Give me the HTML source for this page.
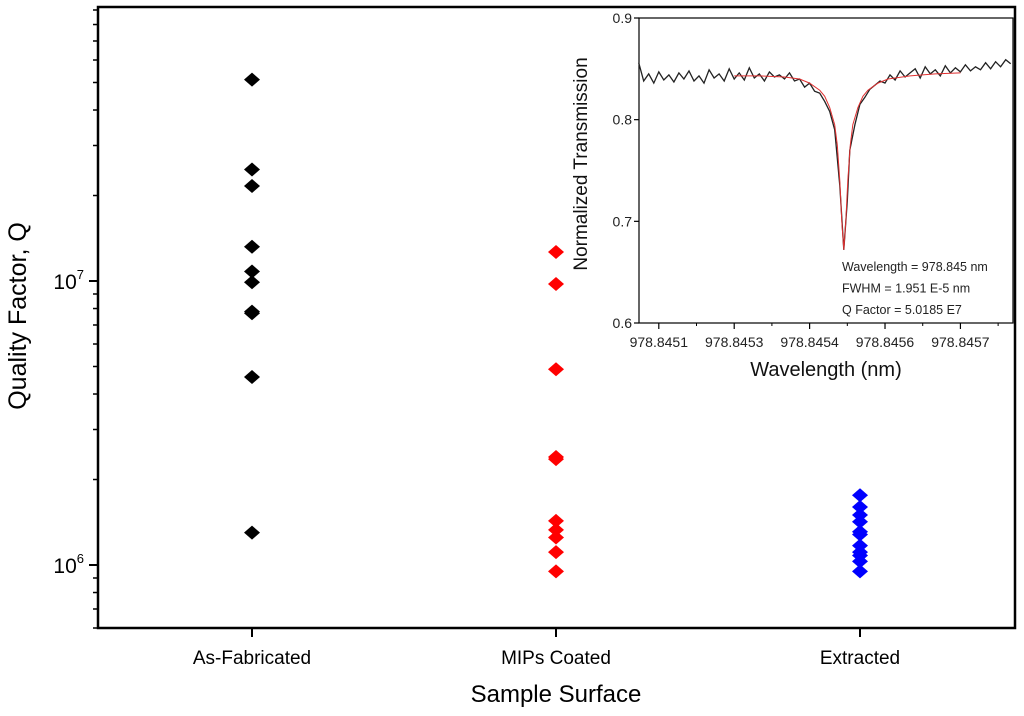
<!DOCTYPE html>
<html><head><meta charset="utf-8"><style>
html,body{margin:0;padding:0;background:#fff;}
svg{display:block;font-family:"Liberation Sans",Arial,sans-serif;}
</style></head><body>
<svg id="chart" width="1024" height="716" viewBox="0 0 1024 716" xmlns="http://www.w3.org/2000/svg"></svg>
<script>
// ---- main chart data ----
const categories = ["As-Fabricated", "MIPs Coated", "Extracted"];
const asFabricatedQ = [5.12e7, 2.47e7, 2.16e7, 1.32e7, 1.08e7, 0.99e7, 7.8e6, 7.7e6, 4.59e6, 1.30e6];
const mipsCoatedQ = [1.265e7, 9.76e6, 4.89e6, 2.40e6, 2.36e6, 1.43e6, 1.33e6, 1.25e6, 1.11e6, 0.95e6];
const extractedQ = [1.76e6, 1.60e6, 1.50e6, 1.42e6, 1.31e6, 1.28e6, 1.17e6, 1.11e6, 1.08e6, 1.03e6, 0.95e6];
const seriesColors = ["#000000", "#ff0000", "#0000ff"];
const yMajorTicks = [1e6, 1e7];
const yMinorTicks = [6e5,7e5,8e5,9e5,2e6,3e6,4e6,5e6,6e6,7e6,8e6,9e6,2e7,3e7,4e7,5e7,6e7,7e7,8e7,9e7];
const yMajorExp = ["6", "7"];

// ---- inset data (x in units of 1e-5 nm offset from 978.8451 nm) ----
const insetX = [-4,-3,-2,-1,0,1,2,3,4,5,6,7,8,9,10,11,12,13,14,15,16,17,18,19,20,21,22,23,24,25,26,27,28,29,30,31,32,33,34,35,36,36.8,37.5,38,39,40,41,42,43,44,45,46,47,48,49,50,51,52,53,54,55,56,57,58,59,60,61,62,63,64,65,66,67,68,69,70];
const insetT = [.856,.838,.845,.836,.847,.839,.844,.837,.846,.840,.848,.838,.843,.836,.849,.841,.845,.838,.850,.840,.846,.839,.851,.841,.845,.838,.847,.842,.844,.840,.846,.838,.840,.832,.836,.828,.826,.818,.808,.790,.735,.672,.720,.770,.795,.815,.822,.830,.834,.838,.836,.844,.839,.848,.842,.846,.850,.841,.852,.845,.849,.843,.853,.846,.851,.847,.854,.848,.852,.849,.856,.850,.857,.852,.859,.855];
const fitX = [15,20,25,28,30,32,33,34,35,35.5,36,36.4,36.8,37.2,37.6,38.1,38.6,39.6,40.6,41.6,43.6,45.6,50,55,60];
const fitT = [.843,.843,.842,.840,.836,.829,.823,.812,.795,.775,.740,.700,.672,.700,.740,.775,.795,.812,.823,.829,.836,.840,.843,.845,.846];
const insetXTicks = [0,15,30,45,60];
const insetXTickLabels = ["978.8451","978.8453","978.8454","978.8456","978.8457"];
const insetYTicks = [0.6,0.7,0.8,0.9];
const insetYTickLabels = ["0.6","0.7","0.8","0.9"];
const annotations = ["Wavelength = 978.845 nm","FWHM = 1.951 E-5 nm","Q Factor = 5.0185 E7"];

const NS = "http://www.w3.org/2000/svg";
const svg = document.getElementById("chart");
function mk(tag, attrs, parent) {
  const e = document.createElementNS(NS, tag);
  for (const k in attrs) e.setAttribute(k, attrs[k]);
  (parent || svg).appendChild(e);
  return e;
}
// main axes
const L = 98, R = 1015, T = 7, B = 628;
const xCat = i => 252 + i * 304;
const yScale = v => 281 - (Math.log10(v) - 7) * 284;

const plot = mk("g", {});


const frame = mk("path", {d:`M${L},${T} H${R} V${B} H${L} Z`, fill:"none", stroke:"#000", "stroke-width":2.5}, plot);



yMinorTicks.forEach(v => {
  const y = yScale(v);
  const t = mk("line", {x1:L-5, x2:L, y1:y, y2:y, stroke:"#000", "stroke-width":1.5}, plot);
  
  
});
yMajorTicks.forEach((v, i) => {
  const y = yScale(v);
  const t = mk("line", {x1:L-9, x2:L, y1:y, y2:y, stroke:"#000", "stroke-width":2}, plot);
  
  
  const lb = mk("text", {x:L-14, y:y+8, "text-anchor":"end", "font-size":21}, plot);
  
  
  lb.appendChild(document.createTextNode("10"));
  const sup = mk("tspan", {dy:-10, "font-size":13}, lb);
  sup.textContent = yMajorExp[i];
});
categories.forEach((c, i) => {
  const x = xCat(i);
  const t = mk("line", {x1:x, x2:x, y1:B, y2:B+9, stroke:"#000", "stroke-width":2}, plot);
  
  
  const lb = mk("text", {x:x, y:664, "text-anchor":"middle", "font-size":19}, plot);
  
  
  lb.textContent = c;
});
const xt = mk("text", {x:556, y:702, "text-anchor":"middle", "font-size":24}, plot);


xt.textContent = "Sample Surface";
const yt = mk("text", {x:0, y:0, "text-anchor":"middle", "font-size":25, transform:"translate(26,316) rotate(-90)"}, plot);


yt.textContent = "Quality Factor, Q";

[asFabricatedQ, mipsCoatedQ, extractedQ].forEach((arr, i) => {
  const g = mk("g", {fill:seriesColors[i]}, plot);
  
  
  arr.forEach(v => {
    const x = xCat(i), y = yScale(v);
    const d = mk("path", {d:`M${x},${y-7} L${x+8},${y} L${x},${y+7} L${x-8},${y} Z`}, g);
    
    
  });
});

// inset
const iL = 639, iR = 1013, iT = 18, iB = 323;
const ix = v => 658.8 + v * 5.027;
const iy = v => iB - (v - 0.6) / 0.3 * (iB - iT);
const inset = mk("g", {});


const ibg = mk("rect", {x:iL, y:iT, width:iR-iL, height:iB-iT, fill:"#fff", stroke:"#000", "stroke-width":1.2}, inset);


insetYTicks.forEach((v, i) => {
  const y = iy(v);
  const t = mk("line", {x1:iL-5, x2:iL, y1:y, y2:y, stroke:"#000", "stroke-width":1.2}, inset);
  
  
  const lb = mk("text", {x:iL-7, y:y+5, "text-anchor":"end", "font-size":14, fill:"#222"}, inset);
  
  
  lb.textContent = insetYTickLabels[i];
});
insetXTicks.forEach((v, i) => {
  const x = ix(v);
  const t = mk("line", {x1:x, x2:x, y1:iB, y2:iB+6, stroke:"#000", "stroke-width":1.2}, inset);
  
  
  const m = mk("line", {x1:ix(v+7.5), x2:ix(v+7.5), y1:iB, y2:iB+3, stroke:"#000", "stroke-width":1}, inset);
  
  
  const lb = mk("text", {x:x, y:iB+24, "text-anchor":"middle", "font-size":14, fill:"#222"}, inset);
  
  
  lb.textContent = insetXTickLabels[i];
});
const dataLine = mk("polyline", {points: insetX.map((x,i)=>ix(x).toFixed(1)+","+iy(insetT[i]).toFixed(1)).join(" "), fill:"none", stroke:"#222", "stroke-width":1.3}, inset);


const fitLine = mk("polyline", {points: fitX.map((x,i)=>ix(x).toFixed(1)+","+iy(fitT[i]).toFixed(1)).join(" "), fill:"none", stroke:"#e03030", "stroke-width":1}, inset);


annotations.forEach((a, i) => {
  const t = mk("text", {x:842, y:271 + i*21.5, "font-size":12.5, fill:"#222"}, inset);
  
  
  t.textContent = a;
});
const ixt = mk("text", {x:826, y:376, "text-anchor":"middle", "font-size":20, fill:"#111"}, inset);


ixt.textContent = "Wavelength (nm)";
const iyt = mk("text", {x:0, y:0, "text-anchor":"middle", "font-size":19, fill:"#111", transform:"translate(587,164) rotate(-90)"}, inset);


iyt.textContent = "Normalized Transmission";
</script>
</body></html>
